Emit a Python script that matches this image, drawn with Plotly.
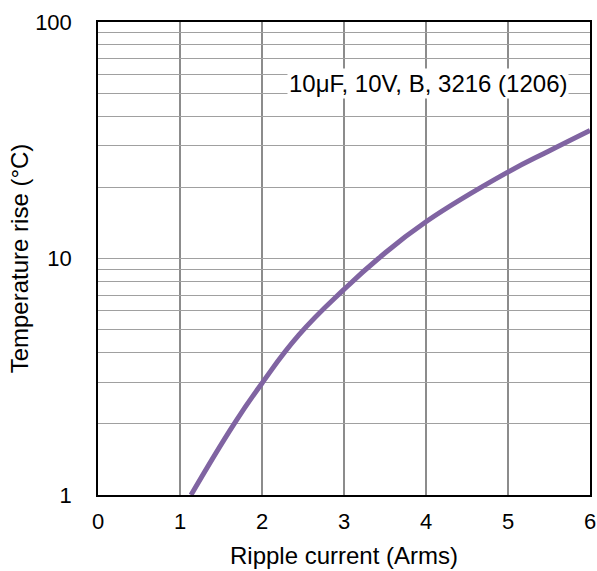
import plotly.graph_objects as go

ripple_current = [1.134, 1.66, 2.0, 2.45, 3.0, 3.42, 4.0, 5.0, 5.5, 6.0]
temperature_rise = [1.0, 2.0, 2.97, 4.75, 7.4, 10.0, 14.3, 23.2, 28.5, 34.8]

x_ticks = [0, 1, 2, 3, 4, 5, 6]
y_major = [1, 10, 100]
y_grid = [1, 2, 3, 4, 5, 6, 7, 8, 9, 10, 20, 30, 40, 50, 60, 70, 80, 90, 100]
y_text = [str(v) if v in y_major else "" for v in y_grid]

label = "10μF, 10V, B, 3216 (1206)"

font_family = "Liberation Sans, Arial, sans-serif"

fig = go.Figure()
fig.add_trace(go.Scatter(
    x=ripple_current, y=temperature_rise, mode="lines",
    line=dict(color="#8064A2", width=5, shape="spline", smoothing=1.3),
    showlegend=False, hoverinfo="skip",
))

fig.add_annotation(
    x=4.03, y=1.741, xref="x", yref="y", text=label, showarrow=False,
    font=dict(family=font_family, size=24, color="#000000"),
    bgcolor="#FFFFFF", borderpad=1,
)

fig.update_layout(
    width=597, height=571,
    margin=dict(l=98, r=7, t=22, b=76),
    paper_bgcolor="#FFFFFF", plot_bgcolor="#FFFFFF",
    font=dict(family=font_family, size=23, color="#000000"),
)

fig.update_xaxes(
    range=[0, 6], tickvals=x_ticks, ticktext=[str(v) for v in x_ticks],
    showgrid=True, gridcolor="#8C8C8C", gridwidth=1.5,
    showline=True, linecolor="#000000", linewidth=1.5, mirror=True,
    ticks="", ticklabelstandoff=6, zeroline=False, automargin=False,
    title=dict(text="Ripple current (Arms)", font=dict(size=24), standoff=14),
    tickfont=dict(size=22),
)
fig.update_yaxes(
    type="log", range=[0, 2], tickvals=y_grid, ticktext=y_text,
    showgrid=True, gridcolor="#A0A0A0", gridwidth=1.3,
    showline=True, linecolor="#000000", linewidth=1.5, mirror=True,
    ticks="", ticklabelstandoff=20, zeroline=False, automargin=False,
    title=dict(text="Temperature rise (°C)", font=dict(size=24), standoff=0),
    tickfont=dict(size=22),
)

fig.write_html("out.html")
